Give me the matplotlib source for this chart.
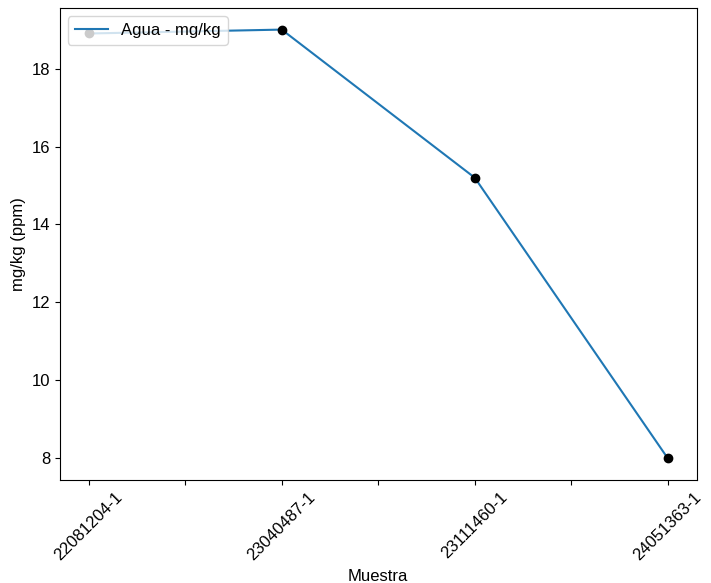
import numpy as np
import matplotlib.pyplot as plt

plt.rcParams['font.family'] = ['Liberation Sans', 'DejaVu Sans']

# --------------------------
# Data
# --------------------------
muestras = ["22081204-1", "23040487-1", "23111460-1", "24051363-1"]
agua_mgkg = [18.9, 19.0, 15.2, 8.0]

x = np.arange(len(muestras))

fig, ax = plt.subplots(figsize=(7.11, 5.83), dpi=100)
fig.subplots_adjust(left=0.084, right=0.980, top=0.986, bottom=0.177)

ax.plot(x, agua_mgkg, color="tab:blue", lw=1.5, label="Agua - mg/kg")
ax.scatter(x, agua_mgkg, color="black", s=36, zorder=3)

# major ticks with labels, unlabeled ticks halfway between
ax.set_xticks(x)
ax.set_xticklabels(muestras, rotation=45, fontsize=12)
ax.set_xticks(x[:-1] + 0.5, minor=True)
ax.tick_params(axis="x", which="minor", length=3.5, width=0.8)
ax.tick_params(axis="y", labelsize=12)

ax.set_xlabel("Muestra", fontsize=12)
ax.set_ylabel("mg/kg (ppm)", fontsize=12)

ax.legend(loc="upper left", fontsize=12)

fig.savefig("out.png", dpi=100)
